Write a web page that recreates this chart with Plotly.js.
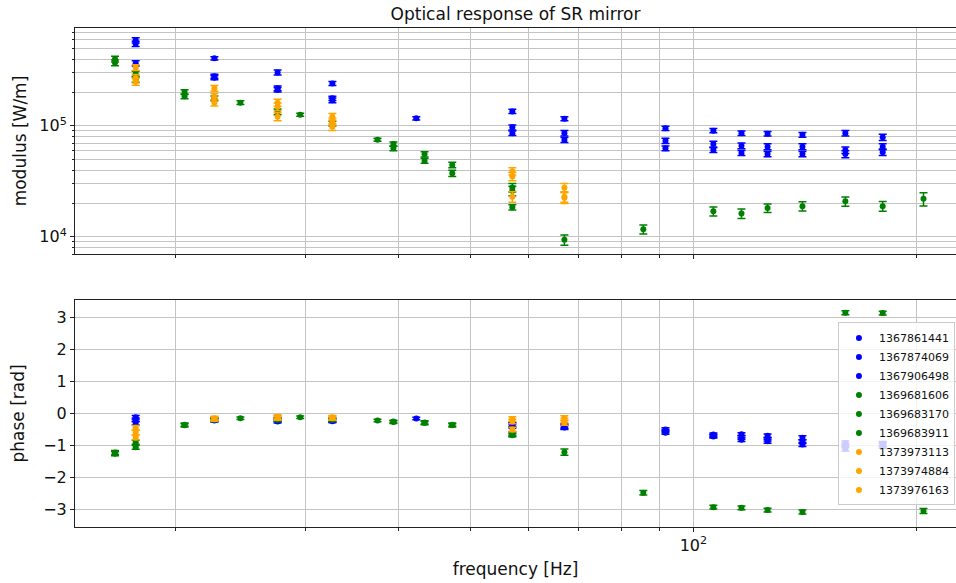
<!DOCTYPE html>
<html>
<head>
<meta charset="utf-8">
<script src="https://cdn.plot.ly/plotly-3.0.1.min.js"></script>
<style>html,body{margin:0;padding:0;background:#fff;}#chart{width:956px;height:583px;}</style>
</head>
<body>
<div id="chart"></div>
<script>
// ---- data ----
const seriesNames = ["1367861441","1367874069","1367906498","1369681606","1369683170","1369683911","1373973113","1373974884","1373976163"];

// blue group
const b1Freq = [17.7, 22.6, 27.5, 32.6, 57.0, 67.0, 91.7, 106.4, 116.1, 125.9, 140.3, 160.3, 180.0];
const b1Mag = [5.9e5, 4.06e5, 3.03e5, 2.41e5, 1.35e5, 1.16e5, 9.5e4, 9.06e4, 8.6e4, 8.5e4, 8.3e4, 8.6e4, 7.9e4];
const b1MagErr = [3.2e4, 1.4e4, 1.5e4, 1.0e4, 6e3, 5e3, 4e3, 4e3, 4e3, 4e3, 4e3, 5e3, 5e3];
const b1Phase = [-0.12, -0.2, -0.18, -0.2, -0.36, -0.42, -0.5, -0.66, -0.65, -0.7, -0.76, -0.92, -0.95];
const b1PhaseErr = [0.06, 0.05, 0.05, 0.05, 0.06, 0.06, 0.05, 0.05, 0.05, 0.06, 0.06, 0.06, 0.07];

const b2Freq = [17.7, 22.6, 27.5, 32.6, 42.3, 57.0, 67.0, 91.7, 106.4, 116.1, 125.9, 140.3, 160.3, 180.0];
const b2Mag = [5.5e5, 2.8e5, 2.18e5, 1.77e5, 1.17e5, 9.7e4, 8.6e4, 7.35e4, 6.86e4, 6.62e4, 6.5e4, 6.5e4, 6.05e4, 6.5e4];
const b2MagErr = [3.0e4, 1.2e4, 1.1e4, 8e3, 4e3, 5e3, 5e3, 4e3, 4e3, 4e3, 4e3, 4e3, 4e3, 4e3];
const b2Phase = [-0.2, -0.18, -0.22, -0.22, -0.16, -0.4, -0.38, -0.55, -0.7, -0.75, -0.8, -0.88, -1.0, -0.97];
const b2PhaseErr = [0.06, 0.05, 0.05, 0.05, 0.04, 0.06, 0.06, 0.05, 0.05, 0.06, 0.06, 0.06, 0.07, 0.07];

const b3Freq = [17.7, 22.6, 27.5, 32.6, 57.0, 67.0, 91.7, 106.4, 116.1, 125.9, 140.3, 160.3, 180.0];
const b3Mag = [3.66e5, 2.72e5, 2.12e5, 1.70e5, 8.6e4, 7.47e4, 6.27e4, 6.05e4, 5.7e4, 5.57e4, 5.57e4, 5.57e4, 5.8e4];
const b3MagErr = [2.0e4, 1.2e4, 1.0e4, 8e3, 4e3, 4e3, 3e3, 3e3, 3e3, 3e3, 3e3, 4e3, 4e3];
const b3Phase = [-0.3, -0.22, -0.25, -0.24, -0.34, -0.44, -0.6, -0.72, -0.82, -0.87, -0.97, -1.1, -1.02];
const b3PhaseErr = [0.06, 0.05, 0.05, 0.05, 0.06, 0.06, 0.05, 0.05, 0.06, 0.06, 0.06, 0.07, 0.07];

// green group
const g1Freq = [16.6, 17.7, 20.6, 24.5, 29.5, 37.5, 43.4, 57.0];
const g1Mag = [4.0e5, 2.95e5, 2.02e5, 1.62e5, 1.26e5, 7.5e4, 5.55e4, 2.78e4];
const g1MagErr = [2.4e4, 1.5e4, 1.0e4, 6e3, 4e3, 2.5e3, 3e3, 2.5e3];
const g1Phase = [-1.22, -0.9, -0.35, -0.15, -0.12, -0.22, -0.28, -0.62];
const g1PhaseErr = [0.06, 0.06, 0.05, 0.04, 0.04, 0.04, 0.05, 0.06];

const g2Freq = [16.6, 17.7, 20.6, 22.6, 27.5, 32.6, 39.4, 43.4, 47.3, 57.0];
const g2Mag = [3.7e5, 2.6e5, 1.85e5, 1.77e5, 1.34e5, 1.05e5, 6.85e4, 4.85e4, 4.45e4, 2.6e4];
const g2MagErr = [2.2e4, 1.4e4, 9e3, 9e3, 8e3, 5e3, 3e3, 2.5e3, 2.5e3, 2.5e3];
const g2Phase = [-1.26, -1.06, -0.37, -0.2, -0.2, -0.2, -0.25, -0.3, -0.35, -0.66];
const g2PhaseErr = [0.06, 0.06, 0.05, 0.05, 0.05, 0.05, 0.04, 0.05, 0.05, 0.06];

const g3Freq = [39.4, 47.3, 57.0, 67.0, 85.6, 106.4, 116.1, 125.9, 140.3, 160.3, 180.0, 204.3];
const g3Mag = [6.27e4, 3.74e4, 1.85e4, 9.4e3, 1.17e4, 1.7e4, 1.62e4, 1.82e4, 1.89e4, 2.09e4, 1.89e4, 2.2e4];
const g3MagErr = [3e3, 2.5e3, 1.0e3, 1.0e3, 1.1e3, 1.6e3, 1.6e3, 1.6e3, 1.8e3, 2.0e3, 1.9e3, 3.0e3];
const g3Phase = [-0.27, -0.37, -0.68, -1.21, -2.48, -2.93, -2.95, -3.02, -3.08, 3.15, 3.14, -3.05];
const g3PhaseErr = [0.04, 0.05, 0.05, 0.1, 0.07, 0.06, 0.06, 0.06, 0.06, 0.06, 0.06, 0.08];

// orange group
const o1Freq = [17.7, 22.6, 27.5, 32.6, 57.0, 67.0];
const o1Mag = [3.35e5, 2.18e5, 1.62e5, 1.21e5, 3.9e4, 2.77e4];
const o1MagErr = [2.0e4, 1.3e4, 1.2e4, 8e3, 3e3, 2.5e3];
const o1Phase = [-0.45, -0.15, -0.1, -0.12, -0.17, -0.14];
const o1PhaseErr = [0.07, 0.06, 0.06, 0.06, 0.07, 0.07];

const o2Freq = [17.7, 22.6, 27.5, 32.6, 57.0, 67.0];
const o2Mag = [2.7e5, 1.84e5, 1.49e5, 1.1e5, 3.5e4, 2.25e4];
const o2MagErr = [2.0e4, 1.2e4, 1.2e4, 8e3, 3e3, 2.5e3];
const o2Phase = [-0.6, -0.17, -0.13, -0.14, -0.25, -0.22];
const o2PhaseErr = [0.07, 0.06, 0.06, 0.06, 0.07, 0.07];

const o3Freq = [17.7, 22.6, 27.5, 32.6, 57.0, 67.0];
const o3Mag = [2.5e5, 1.62e5, 1.21e5, 9.8e4, 2.3e4, 2.3e4];
const o3MagErr = [1.8e4, 1.1e4, 1.0e4, 7e3, 2.5e3, 2.5e3];
const o3Phase = [-0.75, -0.18, -0.15, -0.15, -0.5, -0.3];
const o3PhaseErr = [0.07, 0.06, 0.06, 0.06, 0.07, 0.07];

const xGridFreqs = [20, 30, 40, 50, 60, 70, 80, 90, 200];
const yMinorMag = [7e3, 8e3, 9e3, 2e4, 3e4, 4e4, 5e4, 6e4, 7e4, 8e4, 9e4, 2e5, 3e5, 4e5, 5e5, 6e5, 7e5];

// ---- build ----
const groups = [
  [b1Freq, b1Mag, b1MagErr, b1Phase, b1PhaseErr],
  [b2Freq, b2Mag, b2MagErr, b2Phase, b2PhaseErr],
  [b3Freq, b3Mag, b3MagErr, b3Phase, b3PhaseErr],
  [g1Freq, g1Mag, g1MagErr, g1Phase, g1PhaseErr],
  [g2Freq, g2Mag, g2MagErr, g2Phase, g2PhaseErr],
  [g3Freq, g3Mag, g3MagErr, g3Phase, g3PhaseErr],
  [o1Freq, o1Mag, o1MagErr, o1Phase, o1PhaseErr],
  [o2Freq, o2Mag, o2MagErr, o2Phase, o2PhaseErr],
  [o3Freq, o3Mag, o3MagErr, o3Phase, o3PhaseErr]
];
const colors = ['#0000ff','#0000ff','#0000ff','#008000','#008000','#008000','#ffa500','#ffa500','#ffa500'];

const traces = [];
groups.forEach((g, i) => {
  const c = colors[i];
  traces.push({
    type: 'scatter', mode: 'markers', x: g[0], y: g[1], xaxis: 'x', yaxis: 'y',
    name: seriesNames[i], legendgroup: seriesNames[i], showlegend: false,
    marker: {color: c, size: 6},
    error_y: {type: 'data', array: g[2], visible: true, color: c, thickness: 1.5, width: 4}
  });
});
groups.forEach((g, i) => {
  const c = colors[i];
  traces.push({
    type: 'scatter', mode: 'markers', x: g[0], y: g[3], xaxis: 'x2', yaxis: 'y2',
    name: seriesNames[i], legendgroup: seriesNames[i], showlegend: true,
    marker: {color: c, size: 6},
    error_y: {type: 'data', array: g[4], visible: true, color: c, thickness: 1.5, width: 4}
  });
});

const font = {family: 'DejaVu Sans', color: '#111'};
const xRange = [Math.log10(14.66), Math.log10(226)];
const gridMajor = '#c4c4c4';

const xCommon = {
  type: 'log', range: xRange, tickmode: 'array', tickvals: [100],
  showgrid: true, gridcolor: gridMajor, gridwidth: 1,
  showline: true, linecolor: '#222', linewidth: 1, mirror: true,
  ticks: 'outside', ticklen: 4, tickcolor: '#222', zeroline: false,
  minor: {tickmode: 'array', tickvals: xGridFreqs, showgrid: true, gridcolor: gridMajor, gridwidth: 1, ticks: 'outside', ticklen: 2.5, tickcolor: '#222'}
};

const layout = {
  width: 956, height: 583,
  margin: {l: 75, r: 0, t: 28, b: 56},
  paper_bgcolor: '#fff', plot_bgcolor: '#fff',
  font: Object.assign({size: 16}, font),
  title: {text: 'Optical response of SR mirror', font: Object.assign({size: 17}, font), x: 0.5, xref: 'paper', y: 0.976, yref: 'container', yanchor: 'middle'},
  xaxis: Object.assign({}, xCommon, {anchor: 'y', domain: [0, 1], showticklabels: false}),
  yaxis: {
    type: 'log', range: [3.845, 5.882], domain: [0.547, 1], anchor: 'x',
    tickmode: 'array', tickvals: [1e4, 1e5], ticktext: ['10<sup>4</sup>', '10<sup>5</sup>'],
    tickfont: Object.assign({size: 16}, font),
    showgrid: true, gridcolor: gridMajor, gridwidth: 1,
    showline: true, linecolor: '#222', linewidth: 1, mirror: true,
    ticks: 'outside', ticklen: 4, tickcolor: '#222', zeroline: false,
    minor: {tickmode: 'array', tickvals: yMinorMag, showgrid: true, gridcolor: gridMajor, gridwidth: 1, ticks: 'outside', ticklen: 2.5, tickcolor: '#222'},
    title: {text: 'modulus [W/m]', font: Object.assign({size: 17}, font), standoff: 8}
  },
  xaxis2: Object.assign({}, xCommon, {anchor: 'y2', domain: [0, 1], ticktext: ['10<sup>2</sup>'], showticklabels: true,
    tickfont: Object.assign({size: 16}, font),
    title: {text: 'frequency [Hz]', font: Object.assign({size: 17}, font), standoff: 8}}),
  yaxis2: {
    range: [-3.55, 3.55], domain: [0, 0.455], anchor: 'x2',
    tickmode: 'array', tickvals: [-3, -2, -1, 0, 1, 2, 3],
    tickfont: Object.assign({size: 16}, font),
    showgrid: true, gridcolor: gridMajor, gridwidth: 1,
    showline: true, linecolor: '#222', linewidth: 1, mirror: true,
    ticks: 'outside', ticklen: 4, tickcolor: '#222', zeroline: false,
    title: {text: 'phase [rad]', font: Object.assign({size: 17}, font), standoff: 14}
  },
  legend: {
    x: 0.866, y: 0.41, xanchor: 'left', yanchor: 'top', xref: 'paper', yref: 'paper',
    bgcolor: 'rgba(255,255,255,0.8)', bordercolor: '#cccccc', borderwidth: 1,
    font: Object.assign({size: 11}, font), tracegroupgap: 0, itemwidth: 30
  },
  showlegend: true
};

Plotly.newPlot('chart', traces, layout, {displayModeBar: false, staticPlot: true});
</script>
</body>
</html>
